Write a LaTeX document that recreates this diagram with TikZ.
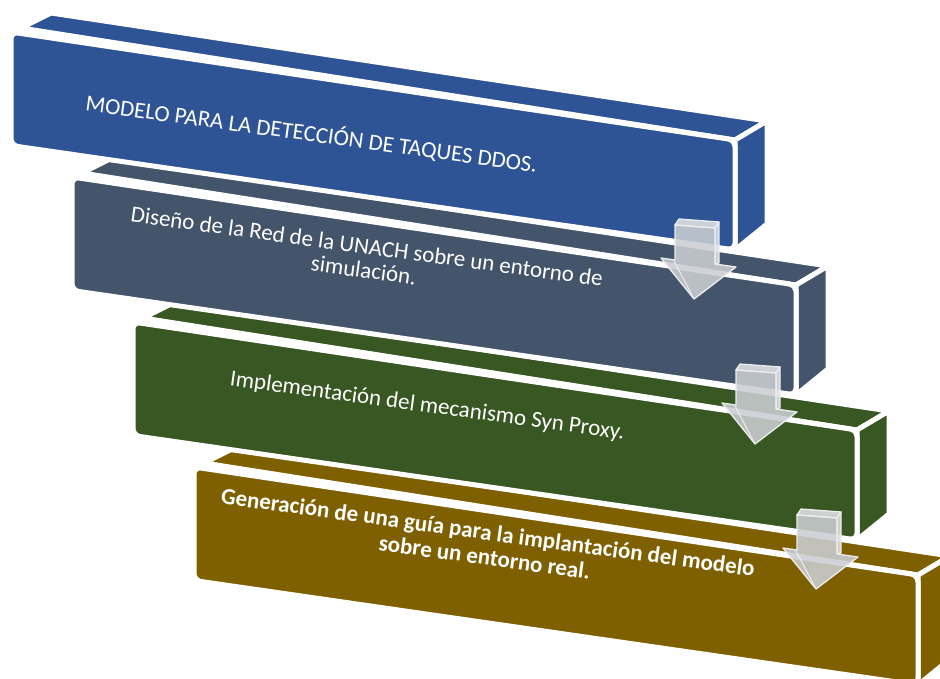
\documentclass[tikz,border=0pt]{standalone}
\usepackage{fontspec}
\setmainfont{Carlito}
\definecolor{cblue}{HTML}{2E5495}
\definecolor{cslate}{HTML}{44546A}
\definecolor{cgreen}{HTML}{385723}
\definecolor{cgold}{HTML}{7F6000}
\definecolor{arrowgray}{HTML}{CBCED3}
\definecolor{arrowlight}{HTML}{DDDFE2}
\definecolor{arrowline}{HTML}{ECEDEF}
\tikzset{
  face/.style={fill=#1, draw=white, line width=5pt, line join=round},
  frontface/.style={fill=#1, draw=white, line width=5pt, rounded corners=7pt},
  steptext/.style={text=white, font=\fontsize{23}{24}\selectfont, anchor=base, rotate=-7.8, inner sep=0pt, align=center},
  arrowbody/.style={fill=arrowgray, fill opacity=0.88, draw=arrowline, line width=1.3pt, line join=round},
  arrowrim/.style={fill=arrowlight, fill opacity=0.9, draw=arrowline, line width=1.3pt, line join=round},
}
% one 3D step box; #1 = shift, #2 = colour
\newcommand\stepboxshape[2]{%
  \begin{scope}[shift={(#1)}]
    \draw[face=#2] (21,28) -- (51,13) -- (767,121) -- (735,140) -- cycle;
    \draw[face=#2] (735,140) -- (767,121) -- (767,224) -- (735,250) -- cycle;
    \draw[frontface=#2] (11,32) -- (735,140) -- (735,250) -- (11,145.5) -- cycle;
  \end{scope}}
% one 3D down arrow; #1 = tip position
\newcommand\steparrowshape[1]{%
  \begin{scope}[shift={(#1)}]
    \draw[arrowrim] (-19,-74) -- (-15,-80) -- (25,-77) -- (21,-71) -- cycle;
    \draw[arrowrim] (21,-71) -- (25,-77) -- (25,-36) -- (21,-35) -- cycle;
    \draw[arrowbody] (-19,-74) -- (21,-71) -- (21,-35) -- (42,-32) -- (0,0)
        -- (-33,-41) -- (-19,-39) -- cycle;
    \draw[arrowline, line width=1pt] (-20,-38) -- (0,0);
  \end{scope}}
\begin{document}
\begin{tikzpicture}[x=1pt, y=-1pt]
  \useasboundingbox (0,0) rectangle (940,678);
  \clip (0,0) rectangle (940,678);
  % boxes, back to front
  \stepboxshape{183,435}{cgold}
  \node[steptext, font=\fontsize{23}{25}\selectfont\bfseries] (t4) at (483.6,564.8)
      {Generación de una guía para la implantación del modelo\\sobre un entorno real.};
  \stepboxshape{122,290}{cgreen}
  \node[steptext] (t3) at (426.5,412.5) {Implementación del mecanismo Syn Proxy.};
  \stepboxshape{61,145}{cslate}
  \node[steptext] (t2) at (362.7,277.8) {Diseño de la Red de la UNACH sobre un entorno de\\simulación.};
  \stepboxshape{0,0}{cblue}
  \node[steptext] (t1) at (310.5,141.5) {MODELO PARA LA DETECCIÓN DE TAQUES DDOS.};
  % arrows between steps
  \steparrowshape{694,299}
  \steparrowshape{755,444}
  \steparrowshape{816,589}
\end{tikzpicture}
\end{document}
